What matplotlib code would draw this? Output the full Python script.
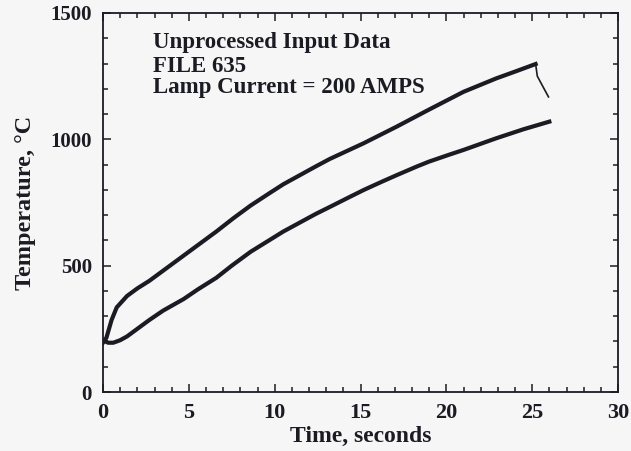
import matplotlib.pyplot as plt
from matplotlib.ticker import MultipleLocator

# upper trace, peak near 25.2 s then falls off
upper_t = [0, 0.2, 0.5, 0.8, 1.4, 2.0, 2.7, 3.5, 4.7, 5.8, 6.6, 7.6, 8.6, 9.7,
           10.5, 12.4, 13.2, 15.2, 17.1, 19.0, 20.2, 21.0, 22.9, 24.0, 25.2,
           25.3, 25.6, 25.95]
upper_T = [195, 215, 285, 335, 380, 410, 440, 480, 540, 595, 635, 688, 738, 787,
           822, 893, 922, 985, 1050, 1118, 1160, 1188, 1241, 1268, 1298,
           1250, 1212, 1168]
peak = 24

lower_t = [0, 0.3, 0.6, 1.0, 1.4, 2.0, 2.7, 3.5, 4.7, 5.5, 6.6, 7.5, 8.6, 10.5,
           12.4, 13.2, 14.4, 15.2, 16.3, 17.1, 18.3, 19.0, 20.2, 21.0, 22.9,
           24.5, 26.0]
lower_T = [205, 195, 195, 205, 220, 250, 285, 322, 368, 405, 452, 500, 555, 635,
           705, 732, 773, 800, 834, 858, 893, 912, 940, 958, 1004,
           1040, 1070]

notes = ["Unprocessed Input Data", "FILE 635", "Lamp Current = 200 AMPS"]

ink = "#1b1b24"
bg = "#f6f6f6"

plt.rcParams["font.family"] = ["Liberation Serif", "DejaVu Serif"]
plt.rcParams["font.weight"] = "bold"
plt.rcParams["axes.labelweight"] = "bold"

fig = plt.figure(figsize=(6.31, 4.51), dpi=100, facecolor=bg)
ax = fig.add_axes([103/631, 1 - 392/451, 515/631, 379/451], facecolor=bg)

ax.plot(upper_t[:peak + 1], upper_T[:peak + 1], color=ink, lw=3.0, solid_joinstyle="round")
ax.plot(upper_t[peak:], upper_T[peak:], color=ink, lw=1.2)
ax.plot(lower_t, lower_T, color=ink, lw=3.0, solid_joinstyle="round")

ax.set_xlim(0, 30)
ax.set_ylim(0, 1500)
ax.xaxis.set_major_locator(MultipleLocator(5))
ax.xaxis.set_minor_locator(MultipleLocator(1))
ax.yaxis.set_major_locator(MultipleLocator(500))
ax.yaxis.set_minor_locator(MultipleLocator(100))
ax.tick_params(which="both", direction="in", top=True, right=True, color=ink,
               labelcolor=ink, width=1.1, pad=8)
ax.tick_params(axis="x", labelsize=16)
ax.tick_params(axis="y", labelsize=15)
ax.tick_params(which="major", length=6)
ax.tick_params(which="minor", length=3.5)
for s in ax.spines.values():
    s.set_linewidth(1.3)
    s.set_color(ink)

ax.set_xlabel("Time, seconds", fontsize=17, color=ink, labelpad=2)
ax.set_ylabel("Temperature, \u00b0C", fontsize=17.5, color=ink, labelpad=10)

for y, s in zip([0.907, 0.845, 0.788], notes):
    ax.text(0.097, y, s, transform=ax.transAxes, fontsize=16.5, color=ink, va="baseline")

fig.savefig("out.png", dpi=100, facecolor=bg)
